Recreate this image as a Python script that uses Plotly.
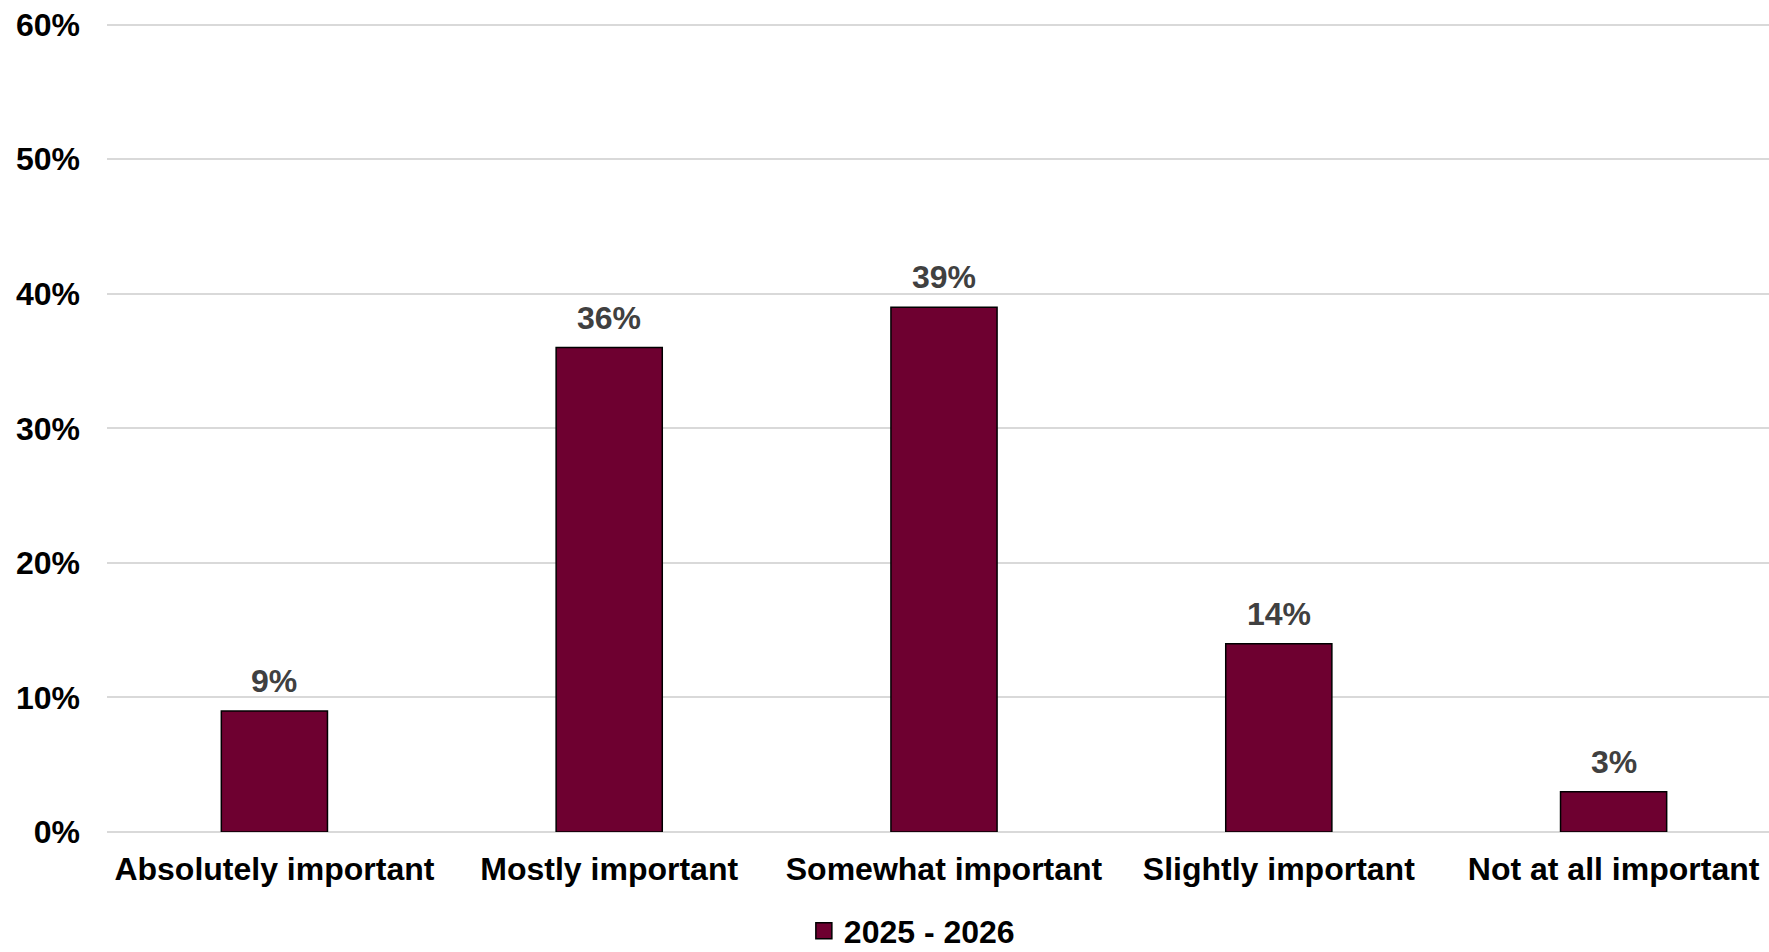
import plotly.graph_objects as go

categories = ["Absolutely important", "Mostly important", "Somewhat important",
              "Slightly important", "Not at all important"]
values = [9, 36, 39, 14, 3]
series_name = "2025 - 2026"
y_ticks = [0, 10, 20, 30, 40, 50, 60]
y_tick_labels = [f"{v}%" for v in y_ticks]

FONT = "Liberation Sans, Arial, sans-serif"
BAR_COLOR = "#6E0030"
FS = 32

fig = go.Figure()
fig.add_trace(go.Bar(
    x=categories, y=values, name=series_name,
    marker=dict(color=BAR_COLOR, line=dict(color="#000000", width=1.5)),
    width=0.317,
    showlegend=False,
))
# legend entry with a larger square swatch
fig.add_trace(go.Scatter(
    x=[None], y=[None], mode="markers", name=series_name,
    marker=dict(symbol="square", size=17, color=BAR_COLOR,
                line=dict(color="#000000", width=1.5)),
    showlegend=True,
))

for c, v in zip(categories, values):
    fig.add_annotation(x=c, y=v, text=f"{v}%", showarrow=False,
                       yanchor="bottom", yshift=10,
                       font=dict(family=FONT, size=FS, color="#404040", weight="bold"))

# plot area runs slightly past the right edge of the 1769px window, as in the reference
fig.update_layout(
    width=1781, height=952,
    margin=dict(l=107, r=0, t=22, b=120, autoexpand=False),
    paper_bgcolor="white", plot_bgcolor="white",
    font=dict(family=FONT, size=FS, color="#000000", weight="bold"),
    showlegend=True,
    legend=dict(orientation="h", x=0.4808, xanchor="center",
                yref="container", y=21 / 952, yanchor="middle",
                font=dict(family=FONT, size=FS, color="#000000", weight="bold"),
                itemwidth=30, bgcolor="rgba(0,0,0,0)"),
    xaxis=dict(showline=False, showgrid=False, ticks="", ticklabelstandoff=15,
               automargin=False,
               tickfont=dict(family=FONT, size=FS, color="#000000", weight="bold")),
    yaxis=dict(range=[0, 60.2], tickvals=y_ticks, ticktext=y_tick_labels,
               showgrid=True, gridcolor="#D9D9D9", gridwidth=1.5,
               zeroline=True, zerolinecolor="#D9D9D9", zerolinewidth=1.5,
               showline=False, ticks="", ticklabelstandoff=26, automargin=False,
               tickfont=dict(family=FONT, size=FS, color="#000000", weight="bold")),
)

fig.write_html("out.html", config={"displayModeBar": False},
               post_script="document.body.style.margin='0';document.body.style.overflow='hidden';")
